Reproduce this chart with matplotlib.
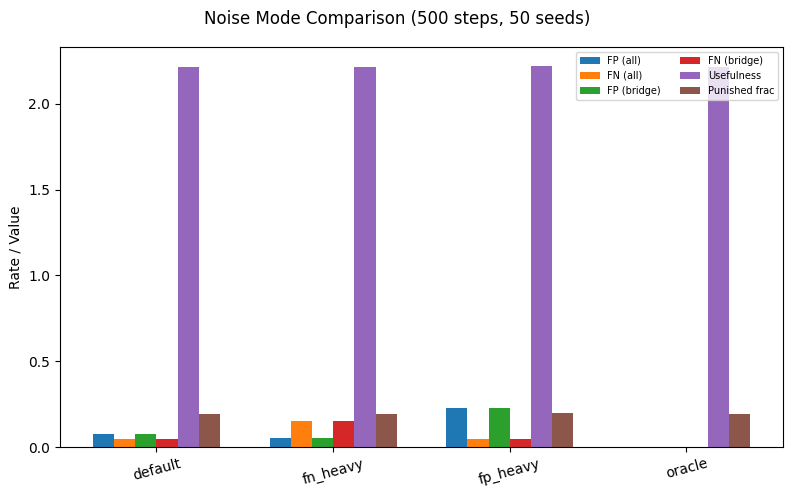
import numpy as np
import matplotlib.pyplot as plt

modes = ['default', 'fn_heavy', 'fp_heavy', 'oracle']
series_names = ['FP (all)', 'FN (all)', 'FP (bridge)', 'FN (bridge)', 'Usefulness', 'Punished frac']

fp_all = [0.076, 0.050, 0.227, 0.0]
fn_all = [0.047, 0.152, 0.048, 0.0]
fp_bridge = [0.076, 0.050, 0.227, 0.0]
fn_bridge = [0.047, 0.152, 0.048, 0.0]
usefulness = [2.216, 2.215, 2.220, 2.215]
punished = [0.192, 0.190, 0.197, 0.192]


def main():
    series = [fp_all, fn_all, fp_bridge, fn_bridge, usefulness, punished]
    x = np.arange(len(modes))
    width = 0.12

    fig, ax = plt.subplots(figsize=(7.94, 4.97), dpi=100)
    for i, (name, vals) in enumerate(zip(series_names, series)):
        ax.bar(x + (i - 2.5) * width, vals, width, label=name)

    ax.set_xticks(x)
    ax.set_xticklabels(modes, rotation=15)
    ax.set_ylabel('Rate / Value')
    ax.legend(ncol=2, fontsize=7, loc='upper right')
    fig.suptitle('Noise Mode Comparison (500 steps, 50 seeds)')
    fig.subplots_adjust(left=0.0756, right=0.986, top=0.905, bottom=0.1006)
    fig.savefig('out.png')


if __name__ == "__main__":
    main()
